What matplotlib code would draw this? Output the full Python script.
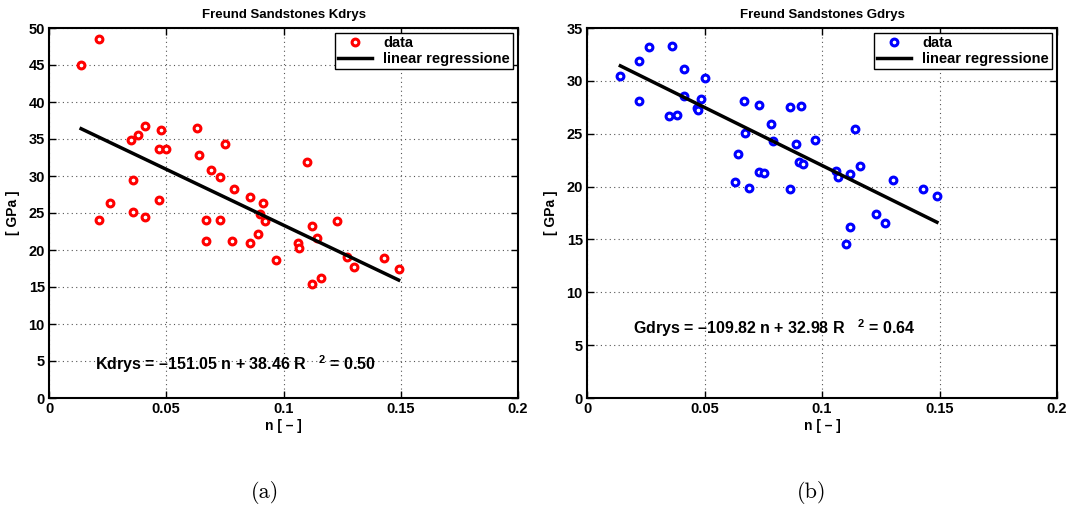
import matplotlib
matplotlib.use("Agg")
import matplotlib.pyplot as plt
import numpy as np

plt.rcParams['font.family'] = ['Liberation Sans', 'DejaVu Sans']
plt.rcParams['font.weight'] = 'bold'
plt.rcParams['mathtext.fontset'] = 'custom'
plt.rcParams['mathtext.rm'] = 'Liberation Sans:bold'
plt.rcParams['mathtext.default'] = 'rm'

# ---- data: Kdrys ----
n_k = [0.0137, 0.0215, 0.0215, 0.0258, 0.0349, 0.0359, 0.0359, 0.0379, 0.0409, 0.0409,
       0.0467, 0.0470, 0.0479, 0.0500, 0.0631, 0.0640, 0.0668, 0.0671, 0.0689, 0.0729,
       0.0729, 0.0751, 0.0781, 0.0791, 0.0859, 0.0859, 0.0890, 0.0900, 0.0912, 0.0919,
       0.0970, 0.1060, 0.1068, 0.1100, 0.1120, 0.1121, 0.1141, 0.1159, 0.1229, 0.1269,
       0.1300, 0.1430, 0.1491]
kdry = [45.0, 48.5, 24.1, 26.3, 34.9, 29.4, 25.1, 35.6, 36.75, 24.5,
        33.7, 26.7, 36.2, 33.6, 36.5, 32.8, 24.1, 21.2, 30.8, 29.9,
        24.1, 34.3, 21.2, 28.2, 27.2, 21.0, 22.1, 24.9, 26.3, 23.9,
        18.6, 21.0, 20.3, 31.85, 15.4, 23.2, 21.6, 16.2, 23.9, 19.0,
        17.7, 18.9, 17.4]
k_slope, k_icpt, k_r2 = -151.05, 38.46, 0.50

# ---- data: Gdrys ----
n_g = [0.0142, 0.0221, 0.0221, 0.0262, 0.0349, 0.0362, 0.0383, 0.0411, 0.0411, 0.0470,
       0.0473, 0.0483, 0.0501, 0.0630, 0.0641, 0.0670, 0.0671, 0.0691, 0.0731, 0.0733,
       0.0752, 0.0782, 0.0790, 0.0862, 0.0862, 0.0891, 0.0900, 0.0910, 0.0921, 0.0971,
       0.1060, 0.1069, 0.1101, 0.1120, 0.1120, 0.1141, 0.1160, 0.1231, 0.1270, 0.1302,
       0.1431, 0.1489]
gdry = [30.5, 31.9, 28.1, 33.2, 26.7, 33.3, 26.8, 31.1, 28.6, 27.4,
        27.2, 28.3, 30.3, 20.4, 23.1, 28.1, 25.1, 19.9, 21.4, 27.7,
        21.3, 25.9, 24.3, 27.5, 19.8, 24.0, 22.3, 27.6, 22.1, 24.4,
        21.5, 20.9, 14.6, 21.2, 16.2, 25.4, 21.9, 17.4, 16.6, 20.6,
        19.8, 19.1]
g_slope, g_icpt, g_r2 = -109.82, 32.98, 0.64

x_ticks = [0, 0.05, 0.1, 0.15, 0.2]
x_ticklabels = ['0', '0.05', '0.1', '0.15', '0.2']

fig = plt.figure(figsize=(10.71, 5.13), dpi=100)
axL = fig.add_axes([49/1071, 115/513, 469/1071, 370/513])
axR = fig.add_axes([587/1071, 115/513, 470/1071, 370/513])

def setup(ax, n, y, color, slope, icpt, r2, name, ymax, txt_xy):
    ax.plot(n, y, 'o', mfc='white', mec=color, mew=2.2, ms=4.9, ls='none', label='data')
    xs = np.array([min(n), max(n)])
    ax.plot(xs, slope * xs + icpt, '-', color='black', lw=2.5, label='linear regressione')
    ax.set_xlim(0, 0.2)
    ax.set_ylim(0, ymax)
    ax.set_xticks(x_ticks)
    ax.set_xticklabels(x_ticklabels)
    ax.set_yticks(np.arange(0, ymax + 1, 5))
    ax.grid(True, ls=(0, (1, 3)), color='#555555', lw=0.8)
    ax.tick_params(direction='in', top=True, right=True, length=5, width=1.0,
                   labelsize=10.5, pad=3)
    for lab in ax.get_xticklabels() + ax.get_yticklabels():
        lab.set_fontweight('bold')
    for s in ax.spines.values():
        s.set_linewidth(1.5)
    ax.set_title('Freund Sandstones ' + name, fontsize=9.5, fontweight='bold', pad=7)
    ax.set_xlabel('n [ – ]', fontsize=10, fontweight='bold', labelpad=2)
    ax.set_ylabel('[ GPa ]', fontsize=10, fontweight='bold', labelpad=6)
    leg = ax.legend(loc='upper right', fancybox=False, edgecolor='black', framealpha=1,
                    prop={'weight': 'bold', 'size': 10.5}, borderaxespad=0.35,
                    handlelength=2.3, borderpad=0.2, labelspacing=0.15,
                    handletextpad=0.8, numpoints=1)
    leg.get_frame().set_linewidth(1.0)
    txt = '%s = –%.2f n + %.2f R   $^{2}$ = %.2f' % (name, -slope, icpt, r2)
    ax.text(txt_xy[0], txt_xy[1], txt, fontsize=11.5, fontweight='bold',
            va='center', ha='left')

setup(axL, n_k, kdry, 'red', k_slope, k_icpt, k_r2, 'Kdrys', 50, (0.0195, 4.6))
setup(axR, n_g, gdry, 'blue', g_slope, g_icpt, g_r2, 'Gdrys', 35, (0.0195, 6.6))

fig.text(265/1071, 1 - 492/513, '(a)', fontsize=16, family='cmr10', ha='center', va='center',
         fontweight='normal')
fig.text(812/1071, 1 - 492/513, '(b)', fontsize=16, family='cmr10', ha='center', va='center',
         fontweight='normal')

fig.savefig('out.png', dpi=100)
